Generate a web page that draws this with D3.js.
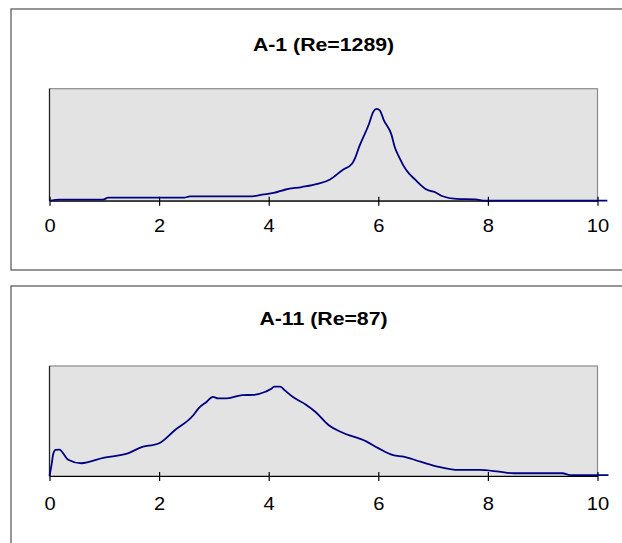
<!DOCTYPE html>
<html>
<head>
<meta charset="utf-8">
<script src="https://d3js.org/d3.v7.min.js"></script>
<style>
    body { margin: 0; background: #ffffff; }
    svg { display: block; }
    .frame { fill: #ffffff; stroke: #5f5f5f; stroke-width: 1.3; }
    .plotArea { fill: #e3e3e3; stroke: #8c8c8c; stroke-width: 1.2; }
    .line { fill: none; stroke: #000080; stroke-width: 1.8; }
    .title { font-family: "Liberation Sans", Arial, sans-serif; font-weight: bold; font-size: 18.5px; fill: #000; }
    .tick text { font-family: "Liberation Sans", Arial, sans-serif; font-size: 17.5px; fill: #000; }
</style>
</head>
<body>
<script>
// Chart titles
var titles = ["A-1 (Re=1289)", "A-11 (Re=87)"];

// X tick labels
var xTicks = [0, 2, 4, 6, 8, 10];

// A-1 series (y as a fraction of plot height)
var a1X = [0, 0.18, 0.98, 1.07, 2.46, 2.56, 3.70, 3.88, 4.09, 4.31, 4.60, 4.89, 5.12, 5.35, 5.52, 5.58, 5.65, 5.83, 5.91, 5.97, 6.03, 6.10, 6.24, 6.30, 6.38, 6.50, 6.68, 6.88, 7.04, 7.16, 7.43, 7.77, 7.95, 10.18];
var a1Y = [0, 0.01, 0.01, 0.027, 0.027, 0.039, 0.039, 0.054, 0.069, 0.10, 0.122, 0.15, 0.19, 0.275, 0.33, 0.385, 0.48, 0.685, 0.795, 0.82, 0.805, 0.72, 0.59, 0.48, 0.39, 0.28, 0.185, 0.10, 0.075, 0.042, 0.016, 0.012, 0, 0];

// A-11 series
var a11X = [0, 0.04, 0.07, 0.11, 0.18, 0.34, 0.58, 0.98, 1.43, 1.71, 1.90, 2.0, 2.28, 2.62, 2.72, 2.87, 2.98, 3.08, 3.24, 3.52, 3.73, 3.94, 4.04, 4.10, 4.21, 4.30, 4.45, 4.68, 4.86, 5.09, 5.32, 5.78, 6.0, 6.27, 6.46, 6.77, 7.13, 7.46, 7.84, 8.20, 8.47, 9.36, 9.50, 10.2];
var a11Y = [0, 0.11, 0.205, 0.238, 0.24, 0.148, 0.116, 0.165, 0.206, 0.267, 0.283, 0.298, 0.414, 0.55, 0.615, 0.675, 0.72, 0.706, 0.706, 0.735, 0.738, 0.766, 0.79, 0.812, 0.812, 0.776, 0.715, 0.648, 0.58, 0.464, 0.400, 0.315, 0.253, 0.19, 0.176, 0.13, 0.08, 0.055, 0.055, 0.04, 0.025, 0.025, 0.008, 0.008];

function init() {
    var w = 622;
    var h = 543;
    var stretch = 1.15; // text in the original is a little wide

    var svg = d3.select("body")
        .append("svg")
        .attr("width", w)
        .attr("height", h);

    // layout for each panel
    var panels = [
        { title: titles[0], xs: a1X, ys: a1Y, frameTop: 9, frameBottom: 270, titleY: 50.7, plotTop: 88.7, axisY: 200.7, labelY: 232 },
        { title: titles[1], xs: a11X, ys: a11Y, frameTop: 286, frameBottom: 600, titleY: 325, plotTop: 366, axisY: 476, labelY: 510 }
    ];

    var xScale = d3.scaleLinear()
        .domain([0, 10])
        .range([49.5, 597.5]);

    panels.forEach(function(p) {
        var data = p.xs.map(function(x, i) { return { x: x, y: p.ys[i] }; });

        var yScale = d3.scaleLinear()
            .domain([0, 1])
            .range([p.axisY, p.plotTop]);

        var g = svg.append("g");

        // outer chart frame (runs off the right edge)
        g.append("rect")
            .attr("class", "frame")
            .attr("x", 11)
            .attr("y", p.frameTop)
            .attr("width", 700)
            .attr("height", p.frameBottom - p.frameTop);

        // title
        g.append("text")
            .attr("class", "title")
            .attr("text-anchor", "middle")
            .attr("transform", "translate(" + ((xScale(0) + xScale(10)) / 2) + "," + p.titleY + ") scale(" + stretch + ",1)")
            .text(p.title);

        // grey plot area
        g.append("rect")
            .attr("class", "plotArea")
            .attr("x", xScale(0))
            .attr("y", p.plotTop)
            .attr("width", xScale(10) - xScale(0))
            .attr("height", p.axisY - p.plotTop);

        // left edge is darker (hidden y axis)
        g.append("line")
            .attr("x1", xScale(0))
            .attr("x2", xScale(0))
            .attr("y1", p.plotTop)
            .attr("y2", p.axisY)
            .attr("stroke", "#222")
            .attr("stroke-width", 1.2);

        // x axis, ticks cross the axis line
        var axis = g.append("g")
            .attr("transform", "translate(0," + p.axisY + ")")
            .call(d3.axisBottom(xScale).tickValues(xTicks).tickSizeInner(5).tickSizeOuter(0));

        axis.select(".domain").attr("stroke", "#000").attr("stroke-width", 1.2);
        axis.selectAll(".tick line").attr("y1", -4).attr("stroke", "#000").attr("stroke-width", 1.2);
        axis.selectAll(".tick text")
            .attr("y", null)
            .attr("dy", null)
            .attr("transform", "translate(0," + (p.labelY - p.axisY) + ") scale(" + stretch + ",1)");

        // the series line
        var line = d3.line()
            .x(function(d) { return xScale(d.x); })
            .y(function(d) { return yScale(d.y); })
            .curve(d3.curveMonotoneX);

        g.append("path")
            .datum(data)
            .attr("class", "line")
            .attr("d", line);
    });
}

window.onload = init;
</script>
</body>
</html>
